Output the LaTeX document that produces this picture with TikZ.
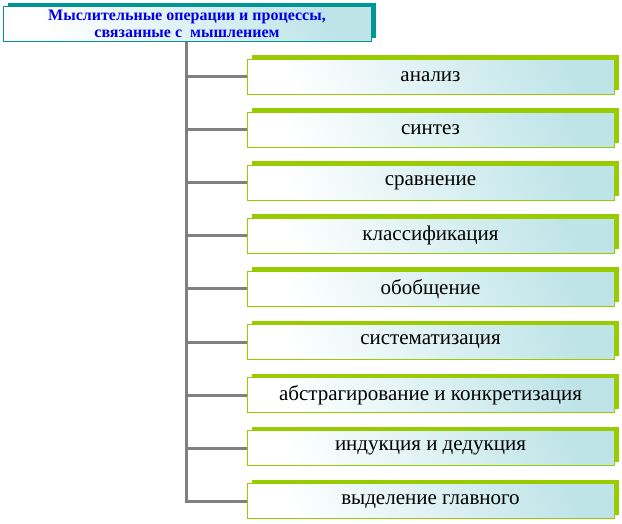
\documentclass[tikz,border=0pt]{standalone}
\usepackage{fontspec}
\setmainfont{Liberation Serif}
\usetikzlibrary{positioning,shadows}
\definecolor{boxgreen}{RGB}{153, 204, 0}
\definecolor{titleteal}{RGB}{0, 150, 150}
\definecolor{boxcyan}{RGB}{190, 228, 232}
\definecolor{titleblue}{RGB}{0, 0, 230}
\definecolor{linegray}{RGB}{128, 128, 128}

\begin{document}
\begin{tikzpicture}[
    x=1pt, y=-1pt,
    tnode/.style={rectangle, draw=titleteal, line width=1pt, top color=boxcyan, bottom color=white, shading angle=-65,
        minimum width=368pt, minimum height=35pt, align=center, inner sep=0pt,
        font=\fontsize{16}{17}\selectfont\bfseries, text=titleblue,
        general shadow={fill=titleteal, shadow xshift=5pt, shadow yshift=4pt}},
    bnode/.style={rectangle, draw=boxgreen, line width=1pt, top color=boxcyan, bottom color=white, shading angle=-65,
        minimum width=367pt, minimum height=35pt, inner sep=0pt,
        font=\fontsize{21}{24}\selectfont,
        general shadow={fill=boxgreen, shadow xshift=5pt, shadow yshift=4pt}},
    link/.style={linegray, line width=3pt}
]
    \useasboundingbox (0,0) rectangle (622,523);

    % Title
    \node[tnode] (t) at (187, 24) {Мыслительные операции и процессы,\\связанные с\ \ мышлением};

    % Operations
    \foreach \lbl [count=\i] in {анализ, синтез, сравнение, классификация, обобщение,
        систематизация, абстрагирование и конкретизация, индукция и дедукция, выделение главного} {
        \node[bnode] (b\i) at (430.5, {76.5 + 53.1*(\i-1)}) {\lbl};
    }

    % Trunk
    \coordinate (trunk) at (186, 42);
    \draw[link] (trunk) |- (b9.west);
    \foreach \i in {1,...,8} {
        \draw[link] (trunk |- b\i.west) -- (b\i.west);
    }
\end{tikzpicture}
\end{document}
